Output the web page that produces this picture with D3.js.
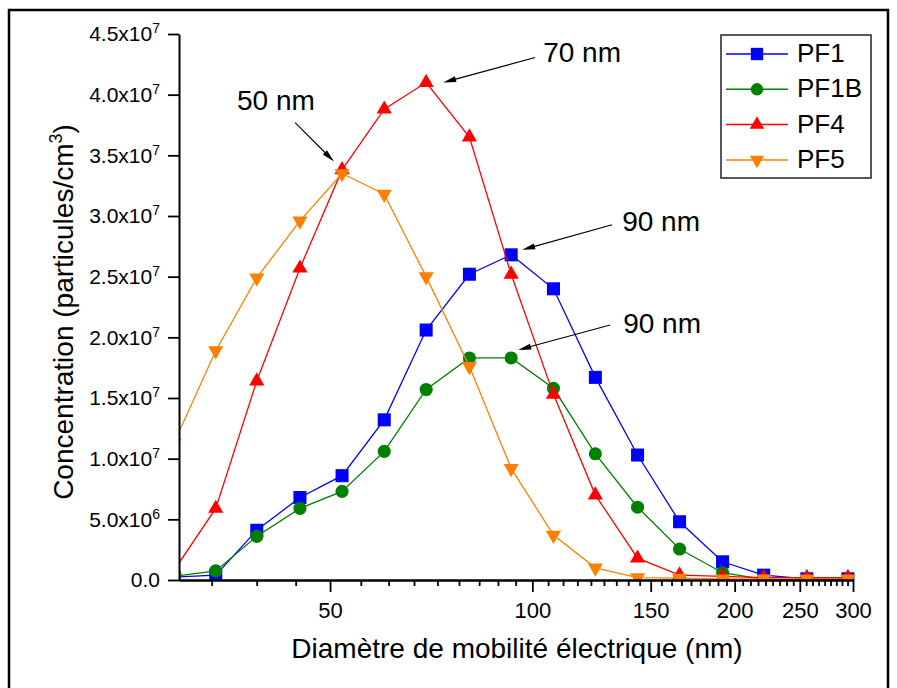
<!DOCTYPE html>
<html>
<head>
<meta charset="utf-8">
<script src="https://cdn.jsdelivr.net/npm/d3@7"></script>
<style>
  body { margin: 0; background: #fff; }
  svg { display: block; font-family: Arial, "Liberation Sans", sans-serif; }
</style>
</head>
<body>
<div id="chart"></div>
<script>

// Diamètre de mobilité électrique (nm)
const diameters = [29.3, 33.8, 38.9, 45.1, 52.1, 60.2, 69.5, 80.6, 93.0, 107.5, 124.1, 143.4, 165.6, 191.9, 220.9, 256.1, 294.8];

// Concentrations (10^6 particules/cm3)
const pf1  = [0.23, 0.4, 4.1, 6.8, 8.6, 13.2, 20.6, 25.2, 26.8, 24.0, 16.7, 10.3, 4.8, 1.5, 0.4, 0.1, 0.1];
const pf1b = [0.3, 0.75, 3.6, 5.9, 7.3, 10.6, 15.7, 18.3, 18.3, 15.8, 10.4, 6.0, 2.55, 0.6, 0.05, 0.0, 0.0];
const pf4  = [0.8, 5.9, 16.4, 25.7, 33.8, 38.8, 41.0, 36.5, 25.2, 15.3, 7.0, 1.8, 0.4, 0.3, 0.2, 0.2, 0.2];
const pf5  = [11.3, 18.9, 24.9, 29.6, 33.5, 31.8, 25.0, 17.6, 9.2, 3.7, 1.0, 0.2, 0.15, 0.1, 0.1, 0.1, 0.1];

const seriesNames = ["PF1", "PF1B", "PF4", "PF5"];
const seriesValues = [pf1, pf1b, pf4, pf5];

const yTicks = d3.range(0, 46, 5);
const xMajorTicks = [50, 100, 150, 200, 250, 300];

// pointeurs : série, indice du point, texte
const annotations = [
  { label: "50 nm", series: 3, index: 4 },
  { label: "70 nm", series: 2, index: 6 },
  { label: "90 nm", series: 0, index: 8 },
  { label: "90 nm", series: 1, index: 8 }
];

const colors = ["#0000ff", "#008000", "#ff0000", "#ff8000"];
const symbols = [
  { type: d3.symbolSquare, size: 170, rotate: 0 },
  { type: d3.symbolCircle, size: 135, rotate: 0 },
  { type: d3.symbolTriangle, size: 100, rotate: 0 },
  { type: d3.symbolTriangle, size: 100, rotate: 180 }
];
// décalages en px : pointe, queue, texte
const annotationOffsets = [
  { tip: [-8, -12], tail: [-47, -51], text: [-105, -64] },
  { tip: [17, 0], tail: [109, -25], text: [117, -21] },
  { tip: [11, -5], tail: [101, -30], text: [111, -24] },
  { tip: [7, -8], tail: [99, -33], text: [112, -25] }
];

const width = 897;
const height = 688;
const plot = { left: 179, right: 853, top: 34, bottom: 580 };

const xScale = d3.scaleLog()
  .domain([29.8, 300])
  .range([plot.left, plot.right]);
const yScale = d3.scaleLinear()
  .domain([0, 45])
  .range([plot.bottom, plot.top]);

const svg = d3.select("#chart")
  .append("svg")
    .attr("width", width)
    .attr("height", height);

// cadre
svg.append("rect")
    .attr("x", 9)
    .attr("y", 10)
    .attr("width", 879)
    .attr("height", 700)
    .attr("fill", "none")
    .attr("stroke", "#000")
    .attr("stroke-width", 2.5);

svg.append("defs")
  .append("clipPath")
    .attr("id", "clip")
  .append("rect")
    .attr("x", plot.left)
    .attr("y", 0)
    .attr("width", plot.right - plot.left + 10)
    .attr("height", plot.bottom);

// séries
const line = d3.line()
  .x((d, i) => xScale(diameters[i]))
  .y(d => yScale(d));

const series = svg.append("g")
    .attr("clip-path", "url(#clip)")
  .selectAll(".series")
  .data(seriesValues)
  .join("g")
    .attr("class", "series");

series.append("path")
    .attr("d", d => line(d))
    .attr("fill", "none")
    .attr("stroke", (d, i) => colors[i])
    .attr("stroke-width", 1.3);

series.each(function(values, s) {
  const sym = symbols[s];
  d3.select(this)
    .selectAll("path.marker")
    .data(values)
    .join("path")
      .attr("class", "marker")
      .attr("d", d3.symbol(sym.type, sym.size))
      .attr("transform", (d, i) => `translate(${xScale(diameters[i])},${yScale(d)}) rotate(${sym.rotate})`)
      .attr("fill", colors[s]);
});

// axe x
const minorTicks = d3.range(6, 55)
  .filter(k => k % 9 !== 0)
  .map(k => k * 50 / 9);

const xMinor = svg.append("g")
    .attr("transform", `translate(0,${plot.bottom})`)
    .call(d3.axisBottom(xScale)
      .tickValues(minorTicks)
      .tickSize(6)
      .tickSizeOuter(0)
      .tickFormat(""));

const xAxis = svg.append("g")
    .attr("transform", `translate(0,${plot.bottom})`)
    .call(d3.axisBottom(xScale)
      .tickValues(xMajorTicks)
      .tickSize(12)
      .tickSizeOuter(0)
      .tickPadding(10)
      .tickFormat(d3.format("d")));

xAxis.selectAll("text")
    .attr("font-size", 22)
    .attr("fill", "#000");

// axe y
const yAxis = svg.append("g")
    .attr("transform", `translate(${plot.left},0)`)
    .call(d3.axisLeft(yScale)
      .tickValues(yTicks)
      .tickSize(11)
      .tickSizeOuter(0)
      .tickPadding(8));

yAxis.selectAll(".tick text")
    .attr("font-size", 21)
    .attr("fill", "#000")
    .each(function(d) {
      const t = d3.select(this).text("");
      if (d === 0) {
        t.text("0.0");
        return;
      }
      const exp = d >= 10 ? 7 : 6;
      const mant = d >= 10 ? d / 10 : d;
      t.append("tspan").text(`${mant.toFixed(1)}x10`);
      t.append("tspan")
          .attr("dy", -8)
          .attr("font-size", 14)
          .text(exp);
    });

[xMinor, xAxis, yAxis].forEach(g => {
  g.selectAll(".domain").attr("stroke-width", 2);
  g.selectAll(".tick line").attr("stroke-width", 1.8);
});

// titres des axes
svg.append("text")
    .attr("x", (plot.left + plot.right) / 2 + 1)
    .attr("y", 658)
    .attr("text-anchor", "middle")
    .attr("font-size", 28)
    .text("Diamètre de mobilité électrique (nm)");

const yTitle = svg.append("text")
    .attr("transform", "translate(73,312) rotate(-90)")
    .attr("text-anchor", "middle")
    .attr("font-size", 28);
yTitle.append("tspan").text("Concentration (particules/cm");
yTitle.append("tspan")
    .attr("dy", -11)
    .attr("font-size", 18)
    .text("3");
yTitle.append("tspan")
    .attr("dy", 11)
    .text(")");

// annotations
const notes = svg.append("g");
annotations.forEach((a, i) => {
  const off = annotationOffsets[i];
  const px = xScale(diameters[a.index]);
  const py = yScale(seriesValues[a.series][a.index]);
  const tip = [px + off.tip[0], py + off.tip[1]];
  const tail = [px + off.tail[0], py + off.tail[1]];
  const dx = tip[0] - tail[0];
  const dy = tip[1] - tail[1];
  const len = Math.hypot(dx, dy);
  const ux = dx / len;
  const uy = dy / len;
  const headLen = 13;
  const headW = 3;
  const base = [tip[0] - ux * headLen, tip[1] - uy * headLen];

  notes.append("line")
      .attr("x1", tail[0])
      .attr("y1", tail[1])
      .attr("x2", base[0] + ux * 2)
      .attr("y2", base[1] + uy * 2)
      .attr("stroke", "#000")
      .attr("stroke-width", 1.1);
  notes.append("path")
      .attr("d", `M${tip[0]},${tip[1]} L${base[0] - uy * headW},${base[1] + ux * headW} L${base[0] + uy * headW},${base[1] - ux * headW} Z`)
      .attr("fill", "#000");
  notes.append("text")
      .attr("x", px + off.text[0])
      .attr("y", py + off.text[1])
      .attr("font-size", 28)
      .text(a.label);
});

// légende
const legend = svg.append("g")
    .attr("transform", "translate(721,35)");

legend.append("rect")
    .attr("width", 150)
    .attr("height", 143)
    .attr("fill", "#fff")
    .attr("stroke", "#222")
    .attr("stroke-width", 1.5);

const items = legend.selectAll(".item")
  .data(seriesNames)
  .join("g")
    .attr("class", "item")
    .attr("transform", (d, i) => `translate(0,${19 + i * 35.3})`);

items.append("line")
    .attr("x1", 5)
    .attr("x2", 67)
    .attr("stroke", (d, i) => colors[i])
    .attr("stroke-width", 1.5);

items.append("path")
    .attr("d", (d, i) => d3.symbol(symbols[i].type, symbols[i].size * 0.9)())
    .attr("transform", (d, i) => `translate(36,0) rotate(${symbols[i].rotate})`)
    .attr("fill", (d, i) => colors[i]);

items.append("text")
    .attr("x", 76)
    .attr("y", 8)
    .attr("font-size", 26)
    .text(d => d);

</script>
</body>
</html>
